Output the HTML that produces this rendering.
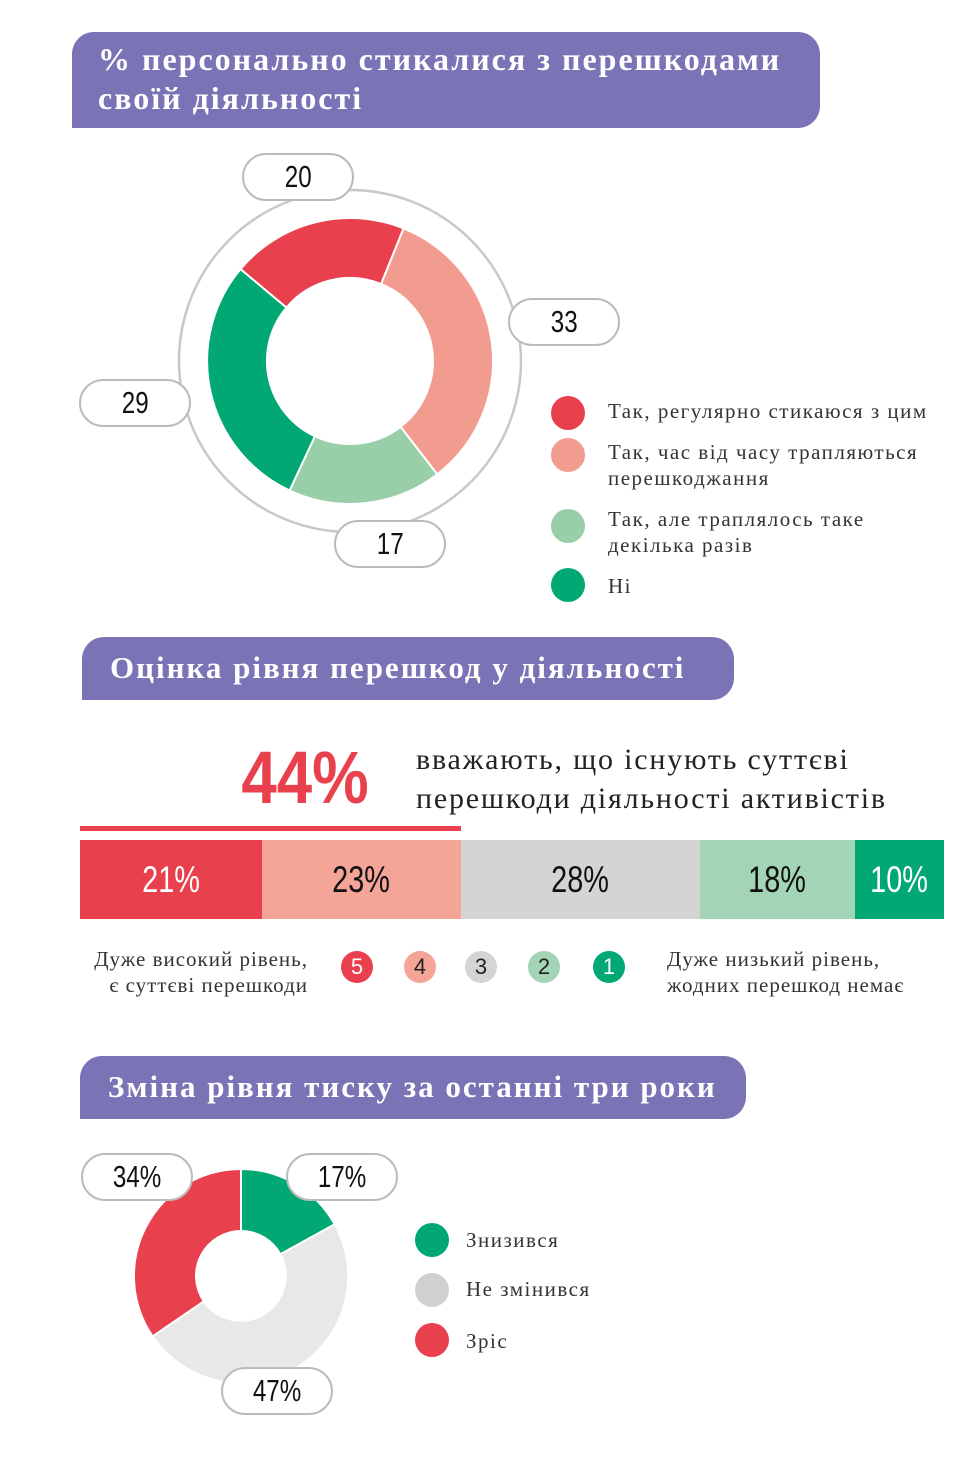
<!DOCTYPE html>
<html><head><meta charset="utf-8"><style>
body{margin:0;width:976px;height:1466px;background:#fff;position:relative;overflow:hidden;font-family:"Liberation Serif","DejaVu Serif",serif;color:#222}
.h{position:absolute;background:#7a73b5;color:#fff;font-weight:bold;border-radius:22px 22px 22px 0;letter-spacing:2px}
.a{position:absolute}
.num{font-family:"Liberation Sans","DejaVu Sans",sans-serif}
.n{display:inline-block;transform:scaleX(0.78)}
.pill{position:absolute;width:108px;height:44px;border:2px solid #bbb;border-radius:24px;background:#fff;text-align:center;line-height:44px;font-size:31px;color:#111;font-family:"Liberation Sans",sans-serif}
.dot{position:absolute;width:34px;height:34px;border-radius:50%}
.lt{position:absolute;font-size:21px;line-height:26px;color:#333;letter-spacing:1.5px}
.seg{position:absolute;top:840px;height:79px;text-align:center;line-height:79px;font-size:37px;font-family:"Liberation Sans",sans-serif}
.sm{position:absolute;width:32px;height:32px;border-radius:50%;text-align:center;line-height:32px;font-size:22px;font-family:"Liberation Sans",sans-serif;top:951px}
</style></head><body>
<div class="h" style="left:72px;top:32px;width:748px;height:96px;"><div style="position:absolute;left:26px;top:8px;font-size:32px;line-height:39px">% персонально стикалися з перешкодами<br>своїй діяльності</div></div>

<svg class="a" style="left:0;top:0" width="976" height="620">
<circle cx="350" cy="361" r="171" fill="none" stroke="#c8c8c8" stroke-width="2.5"/>
<g stroke="#fff" stroke-width="2">
<path d="M240.5,269.1 A143,143 0 0 1 403.6,228.4 L381.1,284.1 A83,83 0 0 0 286.4,307.6 Z" fill="#e8404d"/>
<path d="M403.6,228.4 A143,143 0 0 1 437.2,474.3 L400.6,426.8 A83,83 0 0 0 381.1,284.1 Z" fill="#f29b8f"/>
<path d="M437.2,474.3 A143,143 0 0 1 289.6,490.5 L314.9,436.2 A83,83 0 0 0 400.6,426.8 Z" fill="#98cfa8"/>
<path d="M289.6,490.5 A143,143 0 0 1 240.5,269.1 L286.4,307.6 A83,83 0 0 0 314.9,436.2 Z" fill="#02a874"/>
</g>
</svg>
<div class="pill" style="left:242px;top:153px"><span class="n">20</span></div>
<div class="pill" style="left:508px;top:298px"><span class="n">33</span></div>
<div class="pill" style="left:79px;top:379px"><span class="n">29</span></div>
<div class="pill" style="left:334px;top:520px"><span class="n">17</span></div>

<div class="dot" style="left:551px;top:396px;background:#e8404d"></div>
<div class="lt" style="left:608px;top:398px">Так, регулярно стикаюся з цим</div>
<div class="dot" style="left:551px;top:438px;background:#f29b8f"></div>
<div class="lt" style="left:608px;top:439px">Так, час від часу трапляються<br>перешкоджання</div>
<div class="dot" style="left:551px;top:509px;background:#98cfa8"></div>
<div class="lt" style="left:608px;top:506px">Так, але траплялось таке<br>декілька разів</div>
<div class="dot" style="left:551px;top:568px;background:#02a874"></div>
<div class="lt" style="left:608px;top:573px">Ні</div>

<div class="h" style="left:82px;top:637px;width:652px;height:63px;"><div style="position:absolute;left:28px;top:13px;font-size:31px;line-height:36px">Оцінка рівня перешкод у діяльності</div></div>

<div class="a num" style="left:220px;top:738px;width:170px;text-align:center;font-size:74px;line-height:80px;color:#e8404d;font-weight:bold"><span class="n" style="transform:scaleX(0.86)">44%</span></div>
<div class="a" style="left:416px;top:740px;font-size:30px;line-height:39px;color:#222;letter-spacing:1.8px">вважають, що існують суттєві<br>перешкоди діяльності активістів</div>
<div class="a" style="left:80px;top:826px;width:381px;height:5px;background:#e8404d"></div>
<div class="seg" style="left:80px;width:182px;background:#e8404d;color:#fff"><span class="n">21%</span></div>
<div class="seg" style="left:262px;width:199px;background:#f4a597;color:#111"><span class="n">23%</span></div>
<div class="seg" style="left:461px;width:239px;background:#d4d4d4;color:#111"><span class="n">28%</span></div>
<div class="seg" style="left:700px;width:155px;background:#a4d4b6;color:#111"><span class="n">18%</span></div>
<div class="seg" style="left:855px;width:89px;background:#02a874;color:#fff"><span class="n">10%</span></div>

<div class="lt" style="left:60px;top:946px;text-align:right;width:248px;letter-spacing:1px">Дуже високий рівень,<br>є суттєві перешкоди</div>
<div class="sm" style="left:341px;background:#e8404d;color:#fff">5</div>
<div class="sm" style="left:404px;background:#f4a597;color:#222">4</div>
<div class="sm" style="left:465px;background:#d4d4d4;color:#222">3</div>
<div class="sm" style="left:528px;background:#a4d4b6;color:#222">2</div>
<div class="sm" style="left:593px;background:#02a874;color:#fff">1</div>
<div class="lt" style="left:667px;top:946px;letter-spacing:1px">Дуже низький рівень,<br>жодних перешкод немає</div>

<div class="h" style="left:80px;top:1056px;width:666px;height:63px;"><div style="position:absolute;left:28px;top:13px;font-size:31px;line-height:36px">Зміна рівня тиску за останні три роки</div></div>

<svg class="a" style="left:0;top:1100px" width="500" height="366">
<g stroke="#fff" stroke-width="2">
<path d="M241,69 A107,107 0 0 1 334.7,124.3 L280.4,154.3 A45,45 0 0 0 241,131 Z" fill="#02a874"/>
<path d="M334.7,124.3 A107,107 0 0 1 152.6,236.3 L203.8,201.3 A45,45 0 0 0 280.4,154.3 Z" fill="#e8e8e8"/>
<path d="M152.6,236.3 A107,107 0 0 1 241,69 L241,131 A45,45 0 0 0 203.8,201.3 Z" fill="#e8404d"/>
</g>
</svg>
<div class="pill" style="left:81px;top:1153px"><span class="n">34%</span></div>
<div class="pill" style="left:286px;top:1153px"><span class="n">17%</span></div>
<div class="pill" style="left:221px;top:1367px"><span class="n">47%</span></div>

<div class="dot" style="left:415px;top:1223px;background:#02a874"></div>
<div class="lt" style="left:466px;top:1227px">Знизився</div>
<div class="dot" style="left:415px;top:1273px;background:#d0d0d0"></div>
<div class="lt" style="left:466px;top:1276px">Не змінився</div>
<div class="dot" style="left:415px;top:1323px;background:#e8404d"></div>
<div class="lt" style="left:466px;top:1328px">Зріс</div>
</body></html>
